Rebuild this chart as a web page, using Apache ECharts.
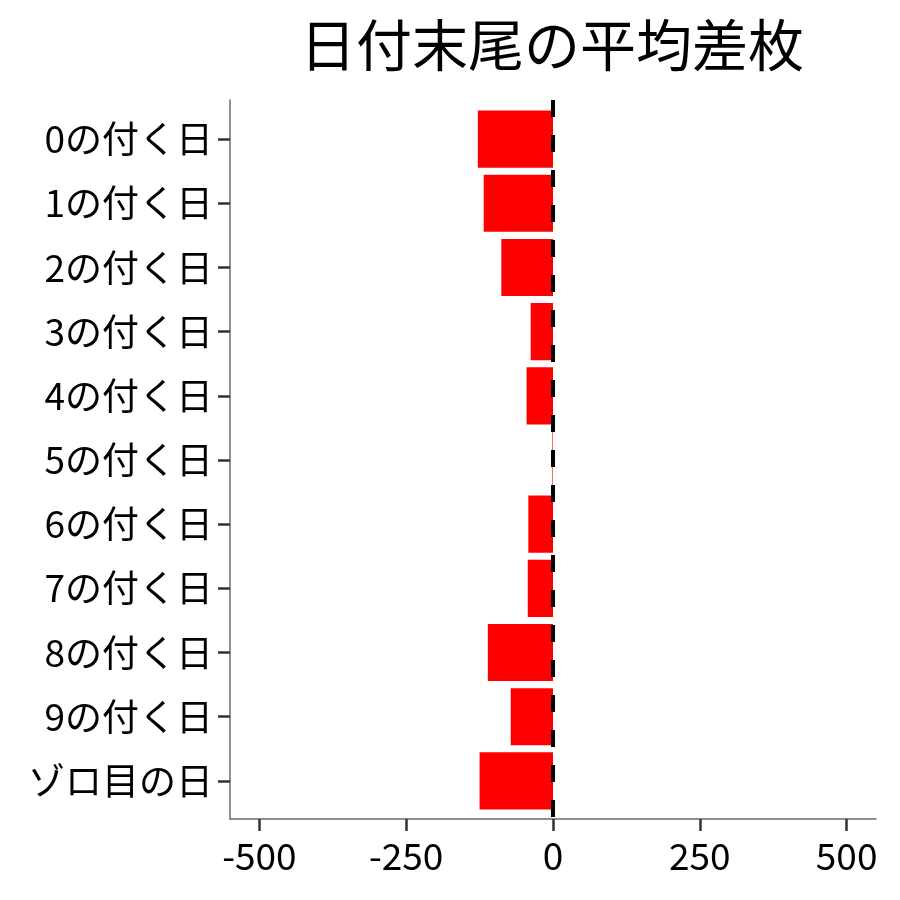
<!DOCTYPE html>
<html><head><meta charset="utf-8">
<script src="https://cdn.jsdelivr.net/npm/echarts@6/dist/echarts.min.js"></script>
<style>html,body{margin:0;padding:0;background:#fff}#c{width:900px;height:900px}</style>
</head><body><div id="c"></div>
<script>
const titleText = '日付末尾の平均差枚';
const categories = ['0の付く日','1の付く日','2の付く日','3の付く日','4の付く日','5の付く日','6の付く日','7の付く日','8の付く日','9の付く日','ゾロ目の日'];
const avgDiff = [-128, -118, -88, -38, -45, -1, -42, -43, -111, -72, -125];
const xTicks = [-500, -250, 0, 250, 500];
const refValue = 0;

const FONT = '"Noto Sans CJK JP","Noto Sans",sans-serif';
const chart = echarts.init(document.getElementById('c'), null, {renderer:'canvas'});
chart.setOption({
  animation: false,
  backgroundColor: '#fff',
  title: {
    text: titleText, left: 547, top: 12, textAlign: 'center',
    textStyle: {fontFamily: FONT, fontSize: 56, fontWeight: 'normal', color: '#000'}
  },
  grid: [
    {left: 230, right: 24, top: 107, bottom: 87},
    {left: 230, right: 24, top: 100, bottom: 81}
  ],
  xAxis: [
    {gridIndex: 0, type: 'value', min: -550, max: 550, show: false},
    {gridIndex: 1, type: 'value', min: -550, max: 550, interval: 250,
     axisLine: {show: true, onZero: false, lineStyle: {color: '#6b6b6b', width: 1.5}},
     axisTick: {show: true, length: 12, lineStyle: {color: '#333', width: 2.5},
       customValues: xTicks},
     axisLabel: {margin: 18, fontFamily: FONT, fontSize: 37, color: '#000',
       customValues: xTicks},
     splitLine: {show: false}}
  ],
  yAxis: [
    {gridIndex: 0, type: 'category', data: categories, inverse: true,
     axisLine: {show: false, onZero: false},
     axisTick: {show: true, alignWithLabel: true, length: 12, lineStyle: {color: '#333', width: 2.5}},
     axisLabel: {margin: 17, fontFamily: FONT, fontSize: 37, color: '#000'}},
    {gridIndex: 1, type: 'value', min: -0.6, max: 10.6,
     axisLine: {show: true, onZero: false, lineStyle: {color: '#6b6b6b', width: 1.5}},
     axisTick: {show: false}, axisLabel: {show: false}, splitLine: {show: false}}
  ],
  series: [
    {type: 'bar', xAxisIndex: 0, yAxisIndex: 0, data: avgDiff, barWidth: '89%',
     itemStyle: {color: '#ff0000'}, z: 2},
    {type: 'line', xAxisIndex: 1, yAxisIndex: 1, symbol: 'none', z: 5,
     data: [[refValue, 10.6], [refValue, -0.6]],
     lineStyle: {color: '#000', width: 4, type: [17, 18]}}
  ]
});
</script></body></html>
